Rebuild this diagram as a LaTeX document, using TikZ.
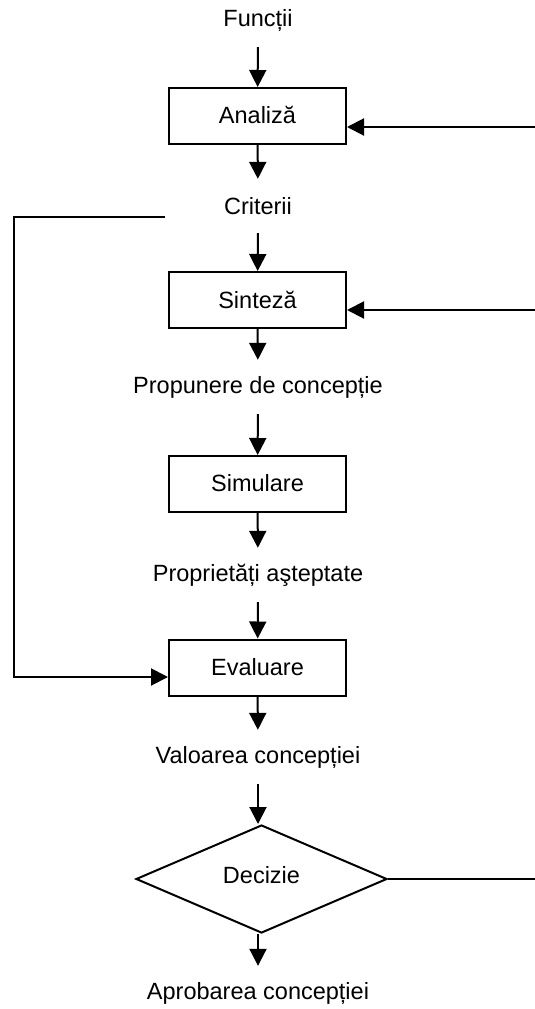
\documentclass[tikz,border=0pt]{standalone}
\usepackage{fontspec}
\setmainfont{Liberation Sans}
\usetikzlibrary{shapes.geometric,arrows.meta}
\begin{document}
\begin{tikzpicture}[x=1pt,y=-1pt,
  every node/.style={font=\fontsize{23.5}{28}\selectfont},
  caption/.style={inner sep=0pt, minimum height=54pt},
  stage/.style={draw, rectangle, line width=2pt, minimum width=177pt, minimum height=56pt, inner sep=0pt},
  choice/.style={draw, diamond, line width=2pt, minimum width=251pt, minimum height=108pt, inner sep=0pt},
  flow/.style={line width=2pt, -{Triangle[length=17pt,width=17pt]}},
  plain/.style={line width=2pt}]
\useasboundingbox[fill=white] (0,0) rectangle (535,1009);

% main column
\node[caption] (func) at (258,20) {Funcții};
\node[stage]   (anal) at (257.5,116) {\raisebox{3pt}{Analiză}};
\node[caption] (crit) at (258,206) {Criterii};
\node[stage]   (sint) at (257.5,300) {Sinteză};
\node[caption] (prop) at (258,387) {Propunere de concepție};
\node[stage]   (sim)  at (257.5,484) {\raisebox{2pt}{Simulare}};
\node[caption] (expt) at (258,575) {Proprietăți aşteptate};
\node[stage]   (eval) at (257.5,667.5) {Evaluare};
\node[caption] (val)  at (258,757) {Valoarea concepției};
\node[choice]  (dec)  at (261.5,879) {\raisebox{8pt}{Decizie}};
\node[caption] (apr)  at (258,993) {Aprobarea concepției};

% downward flow
\draw[flow] (func) -- (anal);
\draw[flow] (anal) -- (crit);
\draw[flow] (crit) -- (sint);
\draw[flow] (sint) -- (prop);
\draw[flow] (prop) -- (sim);
\draw[flow] (sim)  -- (expt);
\draw[flow] (expt) -- (eval);
\draw[flow] (eval) -- (val);
\draw[flow] (val.south) -- (val.south |- dec.north);
\draw[flow] (apr.north |- dec.south) -- (apr.north);

% feedback from the left: criteria into evaluation
\coordinate (lp) at (165,217);
\draw[flow] (lp) -- ++(-151,0) |- ([yshift=-9.5pt]eval.west);

% feedback lines on the right
\coordinate (ra) at (535,127);
\coordinate (rs) at (535,310);
\coordinate (rd) at (535,879);
\draw[flow] (ra) -- (ra -| anal.east);
\draw[flow] (rs) -- (rs -| sint.east);
\draw[plain] (dec.east) -- (rd);
\end{tikzpicture}
\end{document}
